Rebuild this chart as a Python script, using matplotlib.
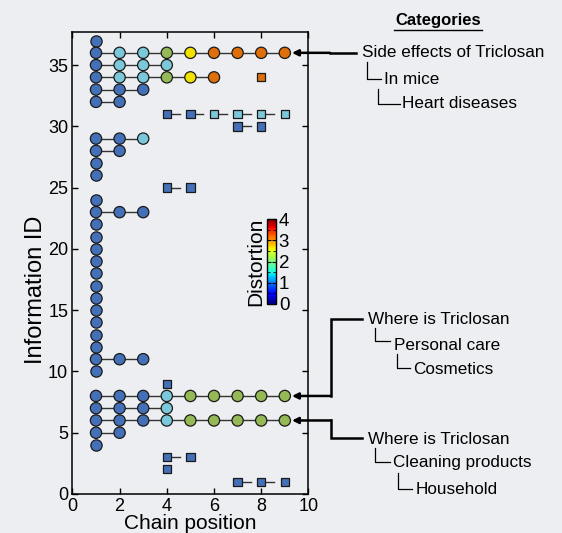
import numpy as np
import matplotlib
matplotlib.use("Agg")
import matplotlib.pyplot as plt
from matplotlib.colors import LinearSegmentedColormap, Normalize
from matplotlib.cm import ScalarMappable

plt.rcParams['font.family'] = ['Liberation Sans', 'DejaVu Sans']

# circle chains: information id -> distortion at chain positions 1, 2, 3, ...
circle_ids = [37, 36, 35, 34, 33, 32, 29, 28, 27, 26, 24, 23,
              22, 21, 20, 19, 18, 17, 16, 15, 14, 13, 12, 11, 10, 8, 7, 6, 5, 4]
circle_dist = [
    [0],
    [0, 1, 1, 2, 2.5, 3, 3, 3, 3],
    [0, 1, 1, 1],
    [0, 1, 1, 2, 2.5, 3],
    [0, 0, 0],
    [0, 0],
    [0, 0, 1],
    [0, 0],
    [0], [0], [0],
    [0, 0, 0],
    [0], [0], [0], [0], [0], [0], [0], [0], [0], [0], [0],
    [0, 0, 0],
    [0],
    [0, 0, 0, 1, 2, 2, 2, 2, 2],
    [0, 0, 0, 1],
    [0, 0, 0, 1, 2, 2, 2, 2, 2],
    [0, 0],
    [0],
]

# square chains: information id, chain positions, distortion
square_ids = [34, 31, 30, 25, 9, 3, 2, 1]
square_pos = [[8], [4, 5, 6, 7, 8, 9], [7, 8], [4, 5], [4], [4, 5], [4], [7, 8, 9]]
square_dist = [[3], [0, 0, 1, 1, 1, 1], [0, 0], [0, 0], [0], [0, 0], [0], [0, 0, 0]]

xticks = [0, 2, 4, 6, 8, 10]
yticks = [0, 5, 10, 15, 20, 25, 30, 35]
cbar_ticks = [0, 1, 2, 3, 4]

bg = '#eceef1'
dot_cmap = LinearSegmentedColormap.from_list(
    'dots', [(0.0, '#4470b8'), (0.25, '#7cc8dc'), (0.5, '#93b857'),
             (0.625, '#f2e400'), (0.75, '#e0700a'), (1.0, '#b00000')])
norm = Normalize(0, 4)

W, H = 562, 533
fig = plt.figure(figsize=(W / 100, H / 100), dpi=100, facecolor=bg)
ax = fig.add_axes([72.4 / W, 1 - 494 / H, 236 / W, 462 / H])
ax.set_facecolor(bg)

for yid, d in zip(circle_ids, circle_dist):
    x = np.arange(1, len(d) + 1)
    y = np.full(len(d), yid)
    ax.plot(x, y, color='#333333', lw=1, zorder=1)
    ax.scatter(x, y, c=d, cmap=dot_cmap, norm=norm, s=66, marker='o',
               edgecolors='#1a1a1a', linewidths=0.9, zorder=3)

for yid, xs, d in zip(square_ids, square_pos, square_dist):
    for a, b in zip(xs[:-1], xs[1:]):
        ax.plot([a, a + 0.55 * (b - a)], [yid, yid], color='#333333', lw=1, zorder=1)
    ax.scatter(xs, np.full(len(xs), yid), c=d, cmap=dot_cmap, norm=norm, s=36,
               marker='s', edgecolors='#1a1a1a', linewidths=0.9, zorder=3)

ax.set_xlim(0, 10)
ax.set_ylim(0, 37.7)
ax.set_xticks(xticks)
ax.set_yticks(yticks)
ax.tick_params(direction='in', top=True, right=True, length=4, width=1,
               labelsize=13, pad=3)
for s in ax.spines.values():
    s.set_linewidth(1.1)
ax.set_xlabel('Chain position', fontsize=15, labelpad=-1)
ax.set_ylabel('Information ID', fontsize=17, labelpad=0)
ax.yaxis.set_label_coords(-0.108, (494 - 290) / 462)

# colorbar
cax = fig.add_axes([267 / W, 1 - 304 / H, 9 / W, 85 / H])
cb = fig.colorbar(ScalarMappable(norm=norm, cmap='jet'), cax=cax, ticks=cbar_ticks)
cb.outline.set_linewidth(1)
cax.tick_params(direction='in', length=3, width=0.8, labelsize=13.5, pad=2,
                left=True, right=True)
cax.set_yticks([0.5, 1.5, 2.5, 3.5], minor=True)
cax.tick_params(which='minor', direction='in', length=2, left=True, right=True)
cb.set_label('Distortion', fontsize=15, labelpad=1)
cax.yaxis.set_label_position('left')

# annotations, in pixel coordinates of the figure (origin top-left)
def fx(px):
    return px / W

def fy(py):
    return 1 - py / H

def row_y(yid):
    return fig.transFigure.inverted().transform(ax.transData.transform((0, yid)))[1]

tip_x = fx(292)
tf = fig.transFigure

fig.text(fx(438), fy(21), 'Categories', fontsize=12, fontweight='bold',
         ha='center', va='center')
fig.add_artist(plt.Line2D([fx(394), fx(482)], [fy(29.5), fy(29.5)], color='black',
                          lw=1, transform=tf))

def tree(x0, y0, y1, x1):
    fig.add_artist(plt.Line2D([fx(x0), fx(x0), fx(x1)], [fy(y0), fy(y1), fy(y1)],
                              color='black', lw=0.9, transform=tf))

def arrow(path_x, path_y):
    # path from text side to the tip
    fig.add_artist(plt.Line2D(path_x[:-1], path_y[:-1], color='black', lw=1.8,
                              transform=tf, solid_joinstyle='miter'))
    ax.annotate('', xy=(path_x[-1], path_y[-1]), xycoords='figure fraction',
                xytext=(path_x[-2], path_y[-2]), textcoords='figure fraction',
                arrowprops=dict(arrowstyle='-|>', lw=1.8, color='black',
                                mutation_scale=9, shrinkA=0, shrinkB=0),
                annotation_clip=False)

fs = 12.3
# top group
y36 = row_y(36)
arrow([fx(356), fx(330), tip_x], [y36, y36, y36])
fig.text(fx(362), y36, 'Side effects of Triclosan', fontsize=fs, va='center')
tree(367, 62, 79, 381)
fig.text(fx(384), fy(79), 'In mice', fontsize=fs, va='center')
tree(378, 89, 104, 400)
fig.text(fx(402), fy(104), 'Heart diseases', fontsize=fs, va='center')

# middle group
y8 = row_y(8)
arrow([fx(362), fx(331), fx(331), tip_x], [fy(319), fy(319), y8, y8])
fig.text(fx(368), fy(320), 'Where is Triclosan', fontsize=fs, va='center')
tree(375, 328, 341, 390)
fig.text(fx(394), fy(345), 'Personal care', fontsize=fs, va='center')
tree(397, 354, 368, 410)
fig.text(fx(413), fy(369), 'Cosmetics', fontsize=fs, va='center')

# bottom group
y6 = row_y(6)
arrow([fx(362), fx(331), fx(331), tip_x], [fy(438), fy(438), y6, y6])
fig.text(fx(368), fy(439), 'Where is Triclosan', fontsize=fs, va='center')
tree(375, 448, 462, 390)
fig.text(fx(393), fy(463), 'Cleaning products', fontsize=fs, va='center')
tree(398, 473, 489, 412)
fig.text(fx(416), fy(490), 'Household', fontsize=fs, va='center')

fig.savefig('out.png', dpi=100, facecolor=bg)
